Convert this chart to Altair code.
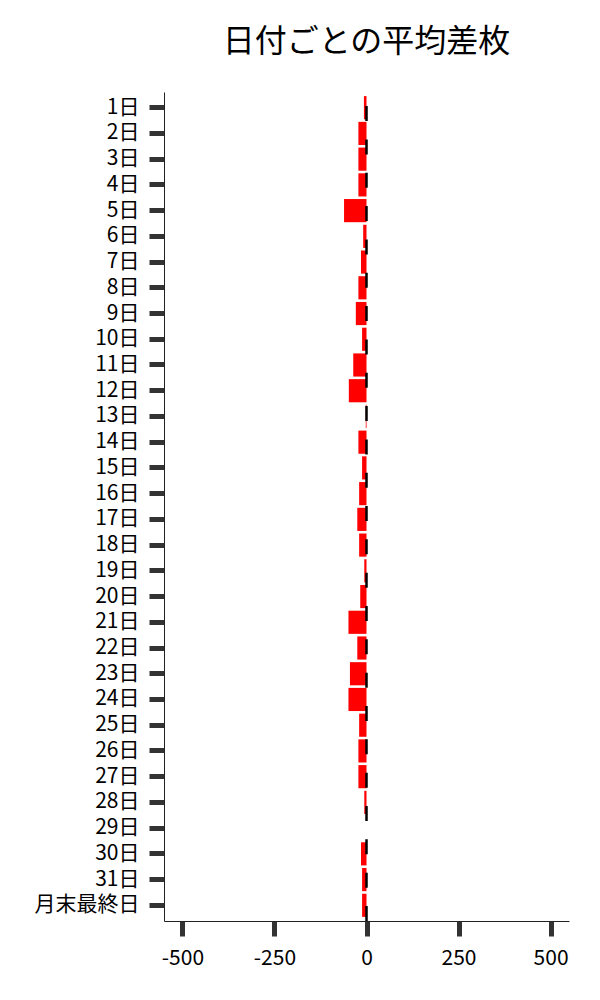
import altair as alt
import pandas as pd

days = [f"{i}日" for i in range(1, 32)] + ["月末最終日"]
avg_diff = [-7, -22, -22, -22, -61, -9, -15, -22, -29, -12, -36, -48,
            -2, -22, -12, -20, -25, -20, -6, -17, -49, -25, -45, -49,
            -20, -22, -22, -6, 0, -15, -12, -12]
x_ticks = [-500, -250, 0, 250, 500]
title_text = "日付ごとの平均差枚"

df = pd.DataFrame({"day": days, "value": avg_diff})

FONT = "Noto Sans CJK JP"
W, H = 405, 829

xscale = alt.Scale(domain=[-550, 550], nice=False, zero=False)

bars = alt.Chart(df).mark_bar(color="#ff0000").encode(
    y=alt.Y("day:N", sort=days,
            scale=alt.Scale(paddingInner=0.1, paddingOuter=0.16),
            axis=alt.Axis(title=None, labelFontSize=21, labelFont=FONT,
                          labelColor="black", tickSize=15, tickWidth=5,
                          tickColor="#333333", domainColor="#222222",
                          domainWidth=1, labelPadding=10)),
    x=alt.X("value:Q", scale=xscale,
            axis=alt.Axis(title=None, values=x_ticks, labelFontSize=21,
                          labelFont=FONT, labelColor="black", tickSize=15,
                          tickWidth=5, tickColor="#333333",
                          domainColor="#222222", domainWidth=1,
                          labelPadding=11, grid=False,
                          labelExpr="'' + datum.value")),
)

zero_line = alt.Chart(pd.DataFrame({"z": [0]})).mark_rule(
    color="black", strokeWidth=2.5, strokeDash=[15, 18.33]
).encode(
    x=alt.X("z:Q", scale=xscale),
    y=alt.value(H),
    y2=alt.value(0),
)

chart = alt.layer(bars, zero_line).properties(
    width=W, height=H,
    title=alt.Title(title_text, fontSize=32, font=FONT, fontWeight="normal",
                    color="black", anchor="middle", baseline="alphabetic",
                    offset=7),
    autosize=alt.AutoSizeParams(type="none"),
    padding={"left": 156, "top": 84, "right": 23, "bottom": 60},
).configure_view(stroke=None).configure_axis(grid=False)

chart.save("out.html", embed_options={"renderer": "svg", "actions": False})
